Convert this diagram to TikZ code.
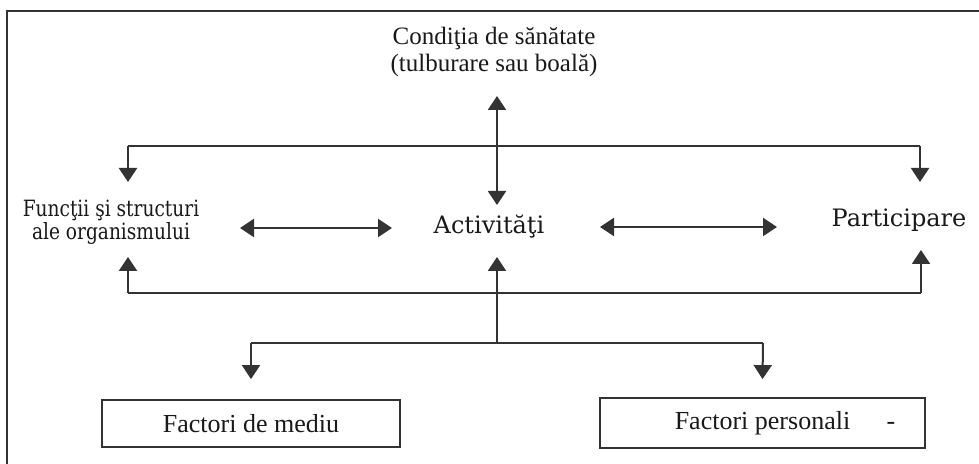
\documentclass[tikz,border=0pt]{standalone}
\usepackage{graphicx}
\usepackage{fontspec}
\setmainfont{Liberation Serif}
\newfontfamily\wideserif{DejaVu Serif}
\usetikzlibrary{arrows.meta}

\begin{document}
\begin{tikzpicture}[x=0.5pt,y=-0.5pt,
		line/.style={draw=black!80, line width=1pt},
		arr/.style={line, -{Triangle[width=9pt,length=7pt]}},
		dbl/.style={line, {Triangle[width=9pt,length=7pt]}-{Triangle[width=9pt,length=7pt]}},
		lbl/.style={text=black!90, font=\fontsize{12.5}{13.5}\selectfont, align=center, inner sep=0pt},
		mid/.style={text=black!90, font=\wideserif\fontsize{12}{10.5}\selectfont, align=center, inner sep=0pt},
		factorbox/.style={draw=black!80, line width=0.9pt, text=black!90, font=\fontsize{13}{14}\selectfont, inner sep=0pt}
		]
		\useasboundingbox (0,0) rectangle (979,464);
		\draw[line] (7,464) -- (7,11) -- (979,11);

		% labels
		\node[lbl](cond) at (494,52) {Condiţia de sănătate\\(tulburare sau boală)};
		\node[mid, font=\wideserif\fontsize{11.2}{10.5}\selectfont](func) at (111,222)
			{\scalebox{0.83}[1]{Funcţii şi structuri}\\\scalebox{0.83}[1]{ale organismului}};
		\node[mid](act) at (489,227) {Activităţi};
		\node[mid](part) at (899,220) {Participare};
		\node[factorbox, minimum width=149pt, minimum height=23.5pt](mediu) at (251,423.5) {Factori de mediu};
		\node[factorbox, minimum width=162.5pt, minimum height=25pt](pers) at (762.5,423) {Factori personali\rlap{\hspace{1.4em}-}};

		% upper bar
		\coordinate (tl) at (128,146);
		\coordinate (tr) at (920,146);
		\coordinate (condtip) at (497,96);
		\coordinate (acttop) at (497,205);
		\draw[line] (tl) -- (tr);
		\draw[arr] (tl) -- (tl |- 0,182);
		\draw[arr] (tr) -- (tr |- 0,182);
		\draw[dbl] (acttop) -- (condtip);

		% middle row
		\draw[dbl] (240,228) -- (392,228);
		\draw[dbl] (600,227) -- (777,227);

		% lower bar
		\coordinate (bl) at (128,293);
		\coordinate (br) at (921,293);
		\coordinate (lc) at (497,343);
		\coordinate (ll) at (251,343);
		\coordinate (lr) at (763,343);
		\draw[line] (bl) -- (br);
		\draw[arr] (bl) -- (bl |- 0,257);
		\draw[arr] (br) -- (br |- 0,250);
		\draw[arr] (lc) -- (lc |- 0,257);
		\draw[line] (ll) -- (lr);
		\draw[arr] (ll) -- ([yshift=10pt]mediu.north);
		\draw[arr] (lr) -- ([yshift=9pt]pers.north);
\end{tikzpicture}
\end{document}
